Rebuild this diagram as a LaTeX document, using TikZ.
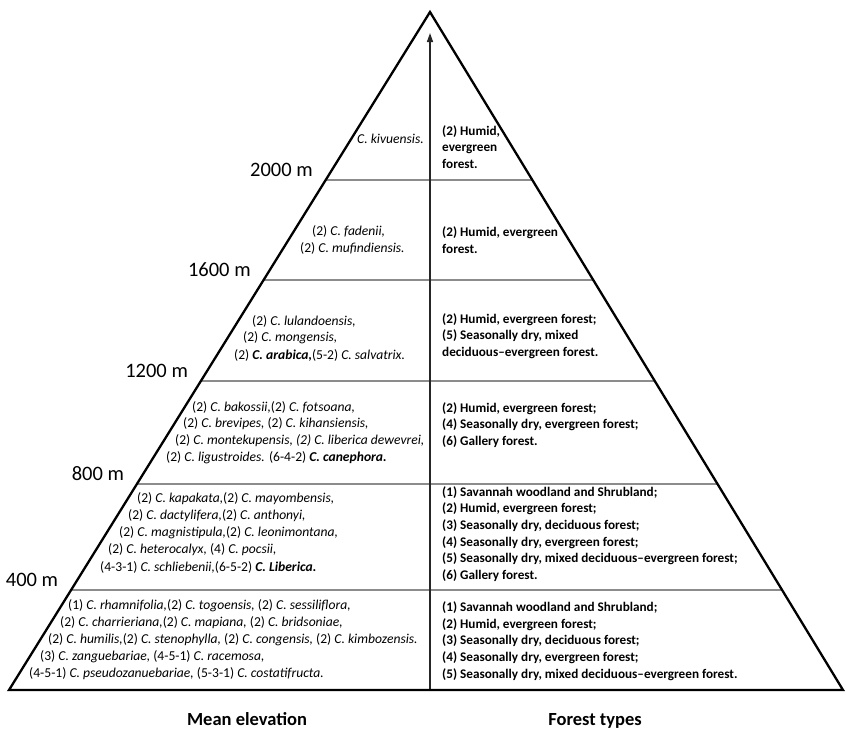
\documentclass[tikz,border=0pt]{standalone}
\usepackage{fontspec}
\setmainfont{Carlito}
\usetikzlibrary{positioning,calc,arrows.meta}

\newcommand{\spc}[1]{\textit{#1}}
\newcommand{\spb}[1]{\textbf{\textit{#1}}}

\begin{document}
\begin{tikzpicture}[
    x=1pt, y=-1pt,
    node distance=19pt,
    >=Stealth,
    line join=miter
]


\tikzstyle{outline}=[draw=black, line width=2.3pt]
\tikzstyle{band}=[draw=black!45, line width=1.2pt]
\tikzstyle{elevaxis}=[draw=black!85, line width=1.5pt]
\tikzstyle{elev}=[inner sep=0pt, font=\fontsize{20.5}{24}\selectfont]
\tikzstyle{sp}=[anchor=west, inner sep=0pt, font=\fontsize{13.6}{16}\selectfont]
\tikzstyle{ftype}=[anchor=west, inner sep=0pt, align=left, font=\fontsize{13.2}{16.7}\selectfont\bfseries]
\tikzstyle{title}=[anchor=base, inner sep=0pt, font=\fontsize{18.5}{22}\selectfont\bfseries]


\useasboundingbox (0,0) rectangle (846,729);
\fill[white] (0,0) rectangle (846,729);


\coordinate (apex) at (430,12);
\coordinate (bl) at (9,690);
\coordinate (br) at (843,690);


\foreach \n/\t in {1/0.2478, 2/0.3953, 3/0.5442, 4/0.6962, 5/0.8525} {
    \coordinate (l\n) at ($(apex)!\t!(bl)$);
    \coordinate (r\n) at ($(apex)!\t!(br)$);
    \draw[band] (l\n) -- (r\n);
}


\coordinate (axbot) at (430,690);
\coordinate (axtop) at (430,33);
\draw[elevaxis, -{Triangle[length=9pt,width=6pt]}] (axbot) -- (axtop);


\draw[outline] (apex) -- (br) -- (bl) -- cycle;


\foreach \n/\t/\h in {a/0.2330/2000, b/0.3805/1600, c/0.5295/1200, d/0.6814/800, e/0.8378/400} {
    \coordinate (m\n) at ($(apex)!\t!(bl)$);
    \node[elev, left=of m\n] (lab\n) {\h\ m};
}


\foreach \x/\y/\t [count=\i] in {
    357/139/{\spc{C. kivuensis.}},
    312/231/{(2) \spc{C. fadenii,}},
    300/248/{(2) \spc{C. mufindiensis.}},
    252/321/{(2) \spc{C. lulandoensis,}},
    243/338/{(2) \spc{C. mongensis,}},
    234/355/{(2) \spb{C. arabica,}(5-2) \spc{C. salvatrix.}},
    192/407/{(2) \spc{C. bakossii,}(2) \spc{C. fotsoana,}},
    183/424/{(2) \spc{C. brevipes,} (2) \spc{C. kihansiensis,}},
    175/441/{(2) \spc{C. montekupensis, (2) C. liberica dewevrei,}},
    166/458/{(2) \spc{C. ligustroides.} (6-4-2) \spb{C. canephora.}},
    137/499/{(2) \spc{C. kapakata,}(2) \spc{C. mayombensis,}},
    128/516/{(2) \spc{C. dactylifera,}(2) \spc{C. anthonyi,}},
    119/533/{(2) \spc{C. magnistipula,}(2) \spc{C. leonimontana,}},
    108/550/{(2) \spc{C. heterocalyx,} (4) \spc{C. pocsii,}},
    100/567/{(4-3-1) \spc{C. schliebenii,}(6-5-2) \spb{C. Liberica.}},
    68/606/{(1) \spc{C. rhamnifolia,}(2) \spc{C. togoensis,} (2) \spc{C. sessiliflora,}},
    60/623/{(2) \spc{C. charrieriana,}(2) \spc{C. mapiana,} (2) \spc{C. bridsoniae,}},
    48/640/{(2) \spc{C. humilis,}(2) \spc{C. stenophylla,} (2) \spc{C. congensis,} (2) \spc{C. kimbozensis.}},
    40/657/{(3) \spc{C. zanguebariae,} (4-5-1) \spc{C. racemosa,}},
    29/674/{(4-5-1) \spc{C. pseudozanuebariae,} (5-3-1) \spc{C. costatifructa.}}
} {
    \node[sp] (sp\i) at (\x,\y) {\t};
}


\node[ftype] (f1) at (442,147) {(2) Humid,\\evergreen\\forest.};
\node[ftype] (f2) at (442,240) {(2) Humid, evergreen\\forest.};
\node[ftype] (f3) at (442,336) {(2) Humid, evergreen forest;\\(5) Seasonally dry, mixed\\deciduous--evergreen forest.};
\node[ftype] (f4) at (442,425) {(2) Humid, evergreen forest;\\(4) Seasonally dry, evergreen forest;\\(6) Gallery forest.};
\node[ftype] (f5) at (442,534) {(1) Savannah woodland and Shrubland;\\(2) Humid, evergreen forest;\\(3) Seasonally dry, deciduous forest;\\(4) Seasonally dry, evergreen forest;\\(5) Seasonally dry, mixed deciduous--evergreen forest;\\(6) Gallery forest.};
\node[ftype] (f6) at (442,641) {(1) Savannah woodland and Shrubland;\\(2) Humid, evergreen forest;\\(3) Seasonally dry, deciduous forest;\\(4) Seasonally dry, evergreen forest;\\(5) Seasonally dry, mixed deciduous--evergreen forest.};


\node[title] (mean) at (247,725) {Mean elevation};
\node[title] (ftypes) at (595,725) {Forest types};

\end{tikzpicture}
\end{document}
